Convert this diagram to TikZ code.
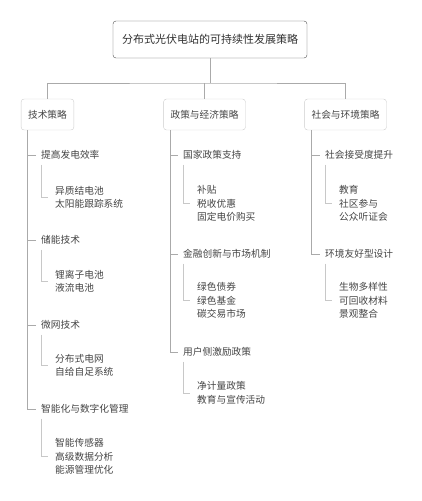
\documentclass[tikz,border=0pt]{standalone}
\usepackage{fontspec}
\setmainfont{Noto Sans CJK SC}
\usepackage{tikz}

\definecolor{txtgray}{HTML}{444444}
\definecolor{linegray}{HTML}{AAAAAA}
\definecolor{brkgray}{HTML}{C8C8C8}

\tikzset{
    rootbox/.style={draw=black!70, rounded corners=3pt, text=txtgray!70!black, font=\fontsize{11}{13}\selectfont, minimum height=37pt, inner xsep=9pt},
    catbox/.style={draw=black!20, rounded corners=3pt, text=txtgray, font=\fontsize{9.7}{13}\selectfont, minimum height=31pt, inner xsep=7pt},
    sublabel/.style={anchor=west, text=txtgray, font=\fontsize{9.7}{13}\selectfont, inner xsep=5pt, inner ysep=5pt},
    itemlist/.style={anchor=west, align=left, text=txtgray, font=\fontsize{9.7}{13.4}\selectfont, inner xsep=7pt},
    conn/.style={draw=linegray, line width=1pt},
    brack/.style={draw=brkgray, line width=0.9pt}
}

\begin{document}
\begin{tikzpicture}[x=1pt, y=-1pt]
    \useasboundingbox (0,0) rectangle (421,501);

    \node[rootbox] (root) at (210,39.5) {分布式光伏电站的可持续性发展策略};
    \node[catbox] (tech) at (47.5,114.5) {技术策略};
    \node[catbox] (policy) at (204.5,114.5) {政策与经济策略};
    \node[catbox] (social) at (345.5,114.5) {社会与环境策略};

    % second level, technique
    \node[sublabel] (t1) at (36,155) {提高发电效率};
    \node[itemlist] (ti1) at (48,197.5) {异质结电池\\太阳能跟踪系统};
    \node[sublabel] (t2) at (36,240) {储能技术};
    \node[itemlist] (ti2) at (48,281.5) {锂离子电池\\液流电池};
    \node[sublabel] (t3) at (36,325) {微网技术};
    \node[itemlist] (ti3) at (48,365.5) {分布式电网\\自给自足系统};
    \node[sublabel] (t4) at (36,409) {智能化与数字化管理};
    \node[itemlist] (ti4) at (48,456.5) {智能传感器\\高级数据分析\\能源管理优化};

    % second level, policy
    \node[sublabel] (p1) at (178,155) {国家政策支持};
    \node[itemlist] (pi1) at (190,203.5) {补贴\\税收优惠\\固定电价购买};
    \node[sublabel] (p2) at (178,254) {金融创新与市场机制};
    \node[itemlist] (pi2) at (190,300.5) {绿色债券\\绿色基金\\碳交易市场};
    \node[sublabel] (p3) at (178,352) {用户侧激励政策};
    \node[itemlist] (pi3) at (190,393) {净计量政策\\教育与宣传活动};

    % second level, society
    \node[sublabel] (s1) at (320,155) {社会接受度提升};
    \node[itemlist] (si1) at (332,203.5) {教育\\社区参与\\公众听证会};
    \node[sublabel] (s2) at (320,254) {环境友好型设计};
    \node[itemlist] (si2) at (332,300.5) {生物多样性\\可回收材料\\景观整合};

    % top connectors
    \coordinate (bar) at (210,83);
    \draw[conn] (root.south) -- (bar);
    \draw[conn] (tech.north) |- (bar) -| (social.north);
    \draw[conn] (policy.north) -- (policy.north |- bar);

    % trunks
    \coordinate (techT) at ([xshift=7pt]tech.south west);
    \coordinate (policyT) at ([xshift=7pt]policy.south west);
    \coordinate (socialT) at ([xshift=7pt]social.south west);
    \draw[conn] (techT) |- (t4.west);
    \draw[conn] (policyT) |- (p3.west);
    \draw[conn] (socialT) |- (s2.west);
    \draw[conn] (t1.west) -- (t1.west -| techT);
    \draw[conn] (t2.west) -- (t2.west -| techT);
    \draw[conn] (t3.west) -- (t3.west -| techT);
    \draw[conn] (p1.west) -- (p1.west -| policyT);
    \draw[conn] (p2.west) -- (p2.west -| policyT);
    \draw[conn] (s1.west) -- (s1.west -| socialT);

    % brackets to the item lists
    \draw[brack] ([xshift=5pt]t1.south west) |- (ti1.west);
    \draw[brack] ([xshift=5pt]t2.south west) |- (ti2.west);
    \draw[brack] ([xshift=5pt]t3.south west) |- (ti3.west);
    \draw[brack] ([xshift=5pt]t4.south west) |- (ti4.west);
    \draw[brack] ([xshift=5pt]p1.south west) |- (pi1.west);
    \draw[brack] ([xshift=5pt]p2.south west) |- (pi2.west);
    \draw[brack] ([xshift=5pt]p3.south west) |- (pi3.west);
    \draw[brack] ([xshift=5pt]s1.south west) |- (si1.west);
    \draw[brack] ([xshift=5pt]s2.south west) |- (si2.west);
\end{tikzpicture}
\end{document}
